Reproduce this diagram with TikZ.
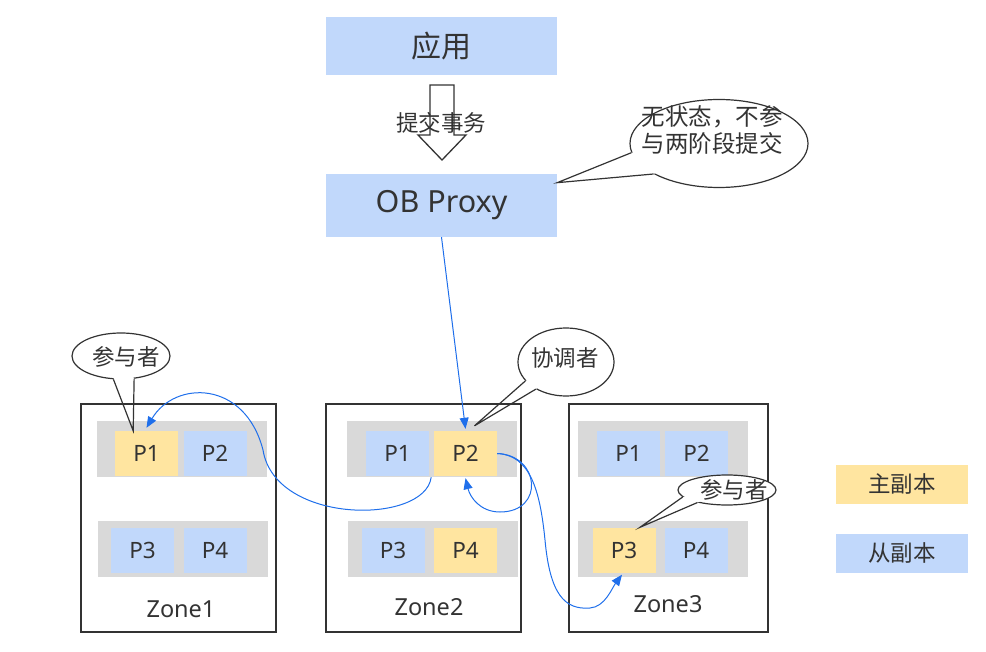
\documentclass[tikz,border=0pt]{standalone}
\usepackage{fontspec}
\setmainfont{Noto Sans}
\newfontfamily\cjk{Noto Sans CJK SC}
\usetikzlibrary{shapes.geometric,arrows.meta,calc}
\definecolor{pblue}{RGB}{193,216,251}
\definecolor{pyellow}{RGB}{255,229,160}
\definecolor{pgray}{RGB}{217,217,217}
\definecolor{lnblue}{RGB}{31,111,235}
\definecolor{txt}{RGB}{51,51,51}
\begin{document}
\begin{tikzpicture}[x=1pt,y=-1pt,
  topbox/.style={fill=pblue, minimum width=231pt, inner sep=0pt, text=txt},
  bar/.style={fill=pgray, minimum width=170pt, minimum height=56pt, inner sep=0pt},
  prim/.style={fill=pyellow, minimum width=63pt, minimum height=45pt, inner sep=0pt, text=txt, font=\fontsize{22.5}{26}\selectfont},
  sec/.style={prim, fill=pblue},
  legendbox/.style={minimum width=132pt, minimum height=39pt, font=\cjk\fontsize{22.5}{26}\selectfont},
  zone/.style={draw=txt, line width=1.5pt, minimum height=228pt, inner sep=0pt},
  zlabel/.style={text=txt, font=\fontsize{23.5}{27}\selectfont},
  bubble/.style={ellipse, draw=txt, fill=white, line width=1.2pt, inner sep=0pt},
  bubtext/.style={text=txt, font=\cjk\fontsize{22.5}{27}\selectfont, align=center, inner sep=0pt},
  tail/.style={draw=txt, line width=1.2pt},
  flow/.style={draw=lnblue, line width=1pt, -{Triangle[length=11pt,width=9pt]}},
]
\useasboundingbox (0,0) rectangle (986,652);

% top boxes
\node[topbox, minimum height=58pt, font=\cjk\fontsize{30}{34}\selectfont] (app) at (441.5,46) {应用};
\node[topbox, minimum height=63pt, font=\fontsize{30.5}{34}\selectfont] (proxy) at (441.5,205.5) {OB Proxy};

% block arrow
\draw[draw=txt, line width=1.3pt, fill=white] (430,85) -- (454,85) -- (454,135) -- (466,135) -- (442,160) -- (418,135) -- (430,135) -- cycle;
\node[text=txt, font=\cjk\fontsize{22.5}{26}\selectfont] (commit) at (441,123) {提交事务};

% zones
\node[zone, minimum width=195pt] (z1) at (178.5,518) {};
\node[zone, minimum width=195pt] (z2) at (423.5,518) {};
\node[zone, minimum width=199pt] (z3) at (668.5,518) {};

% bars
\node[bar] (z1a) at (182,449) {};
\node[bar] (z1b) at (182.5,549) {};
\node[bar] (z2a) at (432,449) {};
\node[bar] (z2b) at (432.5,549) {};
\node[bar] (z3a) at (663,449) {};
\node[bar] (z3b) at (663,549) {};

% partitions
\node[prim] (z1p1) at (146.5,453.5) {P1};
\node[sec]  (z1p2) at (215,453.5) {P2};
\node[sec]  (z1p3) at (142.5,550) {P3};
\node[sec]  (z1p4) at (215,550) {P4};
\node[sec]  (z2p1) at (397.5,453.5) {P1};
\node[prim] (z2p2) at (465.5,453.5) {P2};
\node[sec]  (z2p3) at (393,550) {P3};
\node[prim] (z2p4) at (465.5,550) {P4};
\node[sec]  (z3p1) at (628.5,453.5) {P1};
\node[sec]  (z3p2) at (696.5,453.5) {P2};
\node[prim] (z3p3) at (624,550) {P3};
\node[sec]  (z3p4) at (696,550) {P4};

% zone labels
\node[zlabel] (z1l) at (181,609) {Zone1};
\node[zlabel] (z2l) at (429,607) {Zone2};
\node[zlabel] (z3l) at (668,604) {Zone3};

% legend
\node[prim, legendbox] (lp) at (902,484) {主副本};
\node[sec, legendbox] (ls) at (902,553) {从副本};

% blue connectors
\draw[flow] (proxy.south) -- ($(z2p2.north)+(0,-2)$);
\draw[flow] ($(z2p1.south east)+(2,1)$) .. controls (425,525) and (275,525) .. (263,450)
  .. controls (245,380) and (175,380) .. ($(z1p1.north)+(0,-3)$);
\draw[flow] (z2p2.east) .. controls (540,455) and (545,512) .. (500,512)
  .. controls (480,512) and (470,497) .. ($(z2p2.south)+(0,2)$);
\draw[flow] (z2p2.east) .. controls (530,455) and (540,490) .. (545,540)
  .. controls (550,595) and (565,610) .. (590,608)
  .. controls (605,607) and (612,588) .. ($(z3p3.south)+(-2,2)$);

% callout: stateless
\coordinate (t0) at ($(proxy.north east)!0.14!(proxy.south east)$);
\node[bubble, minimum width=178pt, minimum height=88pt] (c0) at (719,143.5) {};
\fill[white] ($(c0.center)!0.85!(c0.186)$) -- (c0.186) -- ($(c0.186)!0.15!(t0)$) -- ($(c0.205)!0.15!(t0)$) -- (c0.205) -- ($(c0.center)!0.85!(c0.205)$) -- cycle;
\draw[tail] (c0.186) -- (t0) -- (c0.205);
\node[bubtext, font=\cjk\fontsize{23.5}{27}\selectfont] (c0t) at (712,130) {无状态，不参\\与两阶段提交};

% callout: participant zone1
\coordinate (t1) at ($(z1p1.north west)!0.29!(z1p1.north east)$);
\node[bubble, minimum width=98pt, minimum height=46pt] (c1) at (121,356) {};
\fill[white] ($(c1.center)!0.8!(c1.252)$) -- (c1.252) -- ($(c1.252)!0.15!(t1)$) -- ($(c1.300)!0.15!(t1)$) -- (c1.300) -- ($(c1.center)!0.8!(c1.300)$) -- cycle;
\draw[tail] (c1.252) -- (t1) -- (c1.300);
\node[bubtext] (c1t) at (126,357) {参与者};

% callout: coordinator
\coordinate (t2) at ($(z2p2.north)+(9,-5)$);
\node[bubble, minimum width=96pt, minimum height=68pt] (c2) at (566,362) {};
\fill[white] ($(c2.center)!0.85!(c2.205)$) -- (c2.205) -- ($(c2.205)!0.15!(t2)$) -- ($(c2.222)!0.15!(t2)$) -- (c2.222) -- ($(c2.center)!0.85!(c2.222)$) -- cycle;
\draw[tail] (c2.205) -- (t2) -- (c2.222);
\node[bubtext] (c2t) at (565,358) {协调者};

% callout: participant zone3
\coordinate (t3) at ($(z3p3.north)+(16,0)$);
\node[bubble, minimum width=98pt, minimum height=30pt] (c3) at (727,490) {};
\fill[white] ($(c3.center)!0.8!(c3.189)$) -- (c3.189) -- ($(c3.189)!0.15!(t3)$) -- ($(c3.203)!0.15!(t3)$) -- (c3.203) -- ($(c3.center)!0.8!(c3.203)$) -- cycle;
\draw[tail] (c3.189) -- (t3) -- (c3.203);
\node[bubtext] (c3t) at (734,490) {参与者};

\end{tikzpicture}
\end{document}
